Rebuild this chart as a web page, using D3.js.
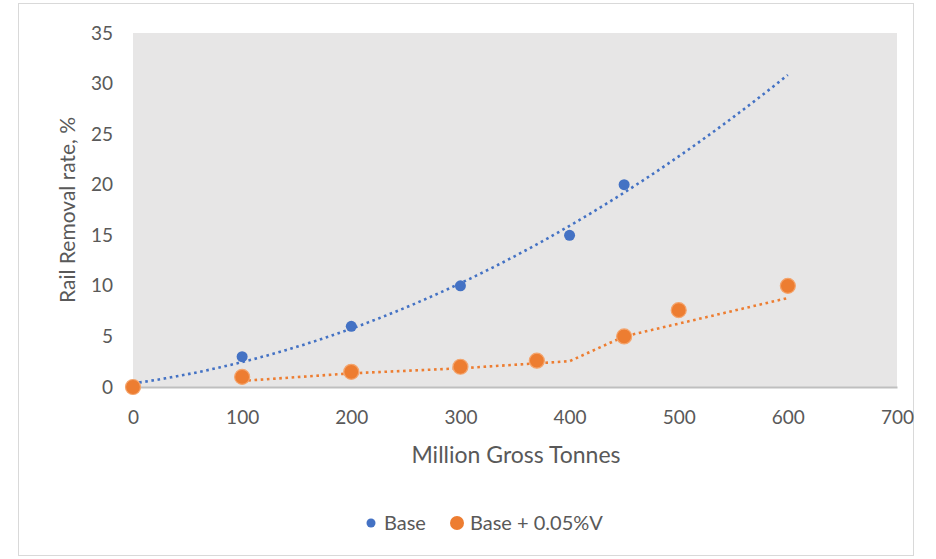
<!DOCTYPE html>
<html>
<head>
<meta charset="utf-8">
<script src="https://cdn.jsdelivr.net/npm/d3@7"></script>
<style>
  html, body { margin: 0; padding: 0; background: #ffffff; }
  svg { display: block; font-family: Lato, "Open Sans", sans-serif; }
</style>
</head>
<body>
<svg id="chart" width="936" height="559"></svg>
<script>
// ---- data ----
const baseX = [0, 100, 200, 300, 400, 450];
const baseY = [0, 3, 6, 10, 15, 20];
const vX = [0, 100, 200, 300, 370, 450, 500, 600];
const vY = [0, 1, 1.5, 2, 2.6, 5, 7.6, 10];
// orange dotted trend line vertices
const vTrendX = [100, 200, 300, 400, 450, 600];
const vTrendY = [0.6, 1.35, 1.85, 2.55, 5.0, 8.8];
const xTicks = [0, 100, 200, 300, 400, 500, 600, 700];
const yTicks = [0, 5, 10, 15, 20, 25, 30, 35];
const seriesNames = ["Base", "Base + 0.05%V"];
const colors = ["#4472C4", "#ED7D31"];
const baseTrendEnd = 600; // trend extended forward to this x

// ---- layout ----
const svg = d3.select("#chart");
const L = 133, R = 897, T = 33, B = 387;
const x = d3.scaleLinear().domain([0, 700]).range([L, R]);
const y = d3.scaleLinear().domain([0, 35]).range([B, T]);
const FONT = "Lato, 'Open Sans', sans-serif";

// outer frame
svg.append("rect").attr("x", 18.5).attr("y", 3.5).attr("width", 895).attr("height", 552)
  .attr("fill", "#fff").attr("stroke", "#d9d9d9").attr("stroke-width", 1);

// plot background
svg.append("rect").attr("x", L).attr("y", T).attr("width", R - L).attr("height", B - T)
  .attr("fill", "#e7e6e6");

// x axis
const xAxis = svg.append("g").attr("transform", `translate(0,${B})`)
  .call(d3.axisBottom(x).tickValues(xTicks).tickSize(0).tickPadding(24).tickFormat(d3.format("d")));
xAxis.select(".domain").attr("stroke", "#bfbfbf").attr("stroke-width", 2);
xAxis.selectAll("text").attr("fill", "#595959").attr("font-size", 19).attr("font-family", FONT);

// y axis
const yAxis = svg.append("g").attr("transform", `translate(${L},0)`)
  .call(d3.axisLeft(y).tickValues(yTicks).tickSize(0).tickPadding(20).tickFormat(d3.format("d")));
yAxis.select(".domain").remove();
yAxis.selectAll("text").attr("fill", "#595959").attr("font-size", 19).attr("font-family", FONT);

// axis titles
svg.append("text").attr("x", (L + R) / 2 + 1).attr("y", 463).attr("text-anchor", "middle")
  .attr("fill", "#595959").attr("font-size", 23).text("Million Gross Tonnes");
svg.append("text").attr("transform", `translate(75,${(T + B) / 2}) rotate(-90)`)
  .attr("text-anchor", "middle").attr("fill", "#595959").attr("font-size", 21)
  .text("Rail Removal rate, %");

// polynomial (order 2) least squares fit of Base series
function polyFit2(xs, ys) {
  const n = xs.length;
  let s = [0, 0, 0, 0, 0], t = [0, 0, 0];
  for (let i = 0; i < n; i++) {
    let p = 1;
    for (let k = 0; k <= 4; k++) { s[k] += p; if (k <= 2) t[k] += p * ys[i]; p *= xs[i]; }
  }
  const A = [[s[0], s[1], s[2], t[0]], [s[1], s[2], s[3], t[1]], [s[2], s[3], s[4], t[2]]];
  for (let i = 0; i < 3; i++) {
    for (let j = i + 1; j < 3; j++) {
      const f = A[j][i] / A[i][i];
      for (let k = i; k < 4; k++) A[j][k] -= f * A[i][k];
    }
  }
  const c = [0, 0, 0];
  for (let i = 2; i >= 0; i--) {
    let v = A[i][3];
    for (let k = i + 1; k < 3; k++) v -= A[i][k] * c[k];
    c[i] = v / A[i][i];
  }
  return c;
}
const coef = polyFit2(baseX, baseY);
const trendPts = d3.range(0, baseTrendEnd + 1, 5).map(v => [v, coef[0] + coef[1] * v + coef[2] * v * v]);

const line = d3.line().x(d => x(d[0])).y(d => y(d[1]));

svg.append("path").datum(trendPts).attr("d", line)
  .attr("fill", "none").attr("stroke", "#4472C4").attr("stroke-width", 2.6)
  .attr("stroke-dasharray", "2.6,3.6");

svg.append("path").datum(vTrendX.map((v, i) => [v, vTrendY[i]])).attr("d", line)
  .attr("fill", "none").attr("stroke", "#ED7D31").attr("stroke-width", 2.6)
  .attr("stroke-dasharray", "2.6,3.6");

// Base points
svg.append("g").selectAll("circle").data(baseX.map((v, i) => [v, baseY[i]])).join("circle")
  .attr("cx", d => x(d[0])).attr("cy", d => y(d[1])).attr("r", 5.5)
  .attr("fill", colors[0]);

// Base + 0.05%V points
svg.append("g").selectAll("circle").data(vX.map((v, i) => [v, vY[i]])).join("circle")
  .attr("cx", d => x(d[0])).attr("cy", d => y(d[1])).attr("r", 7.5)
  .attr("fill", colors[1]).attr("stroke", "#f4a46c").attr("stroke-width", 1.2);

// legend
const lg = svg.append("g");
lg.append("circle").attr("cx", 371).attr("cy", 523).attr("r", 4.5).attr("fill", colors[0]);
lg.append("text").attr("x", 384).attr("y", 530).attr("fill", "#595959").attr("font-size", 20).text(seriesNames[0]);
lg.append("circle").attr("cx", 457).attr("cy", 523).attr("r", 7).attr("fill", colors[1]);
lg.append("text").attr("x", 470).attr("y", 530).attr("fill", "#595959").attr("font-size", 20).text(seriesNames[1]);
</script>
</body>
</html>
